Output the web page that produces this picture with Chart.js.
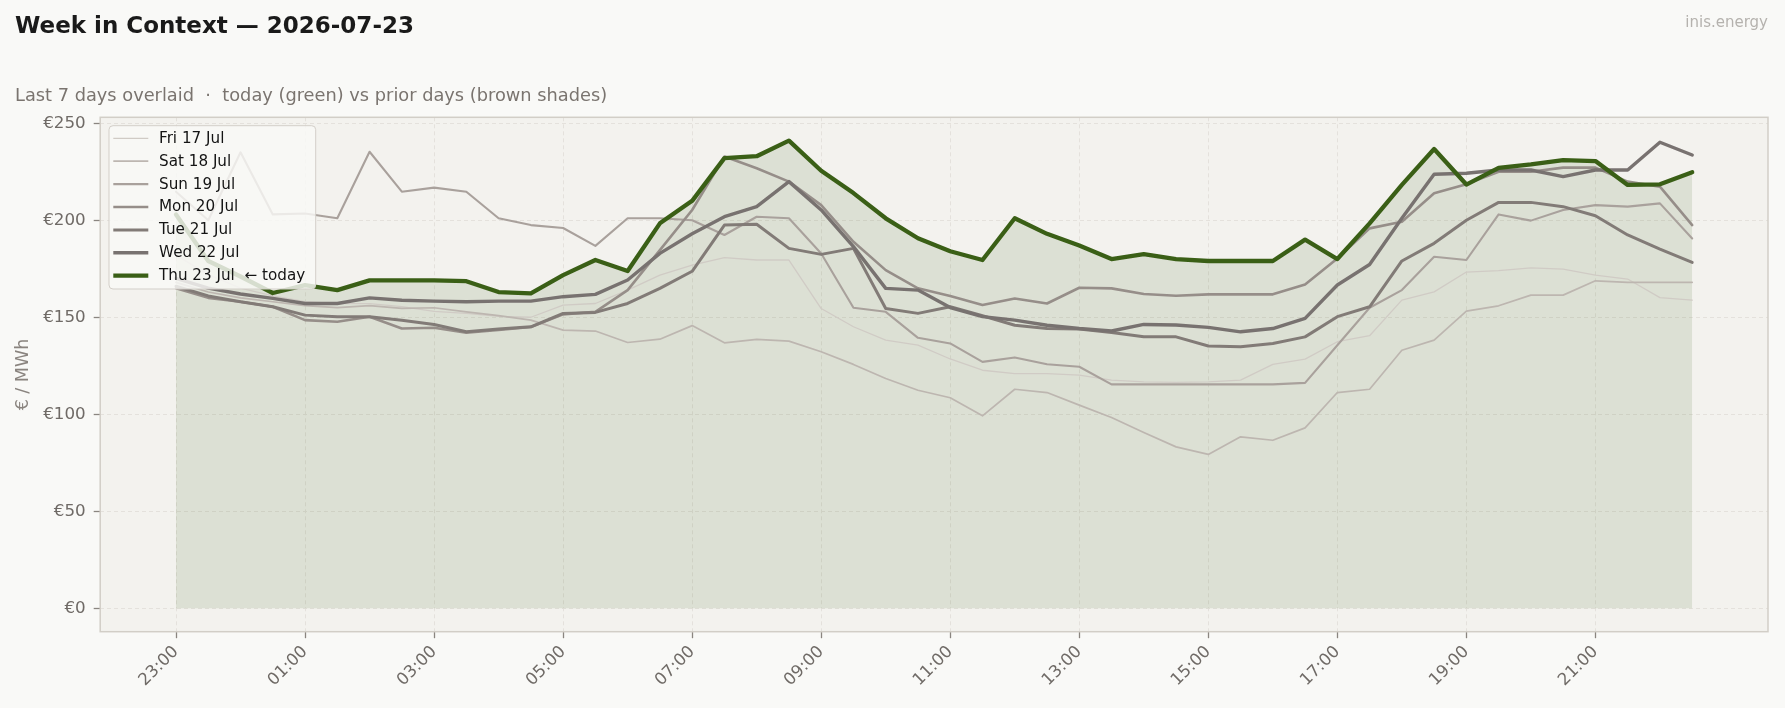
<!DOCTYPE html>
<html><head><meta charset="utf-8">
<script src="https://cdn.jsdelivr.net/npm/chart.js@4.4.1/dist/chart.umd.min.js"></script>
<style>
html,body{margin:0;padding:0;background:#f9f9f7;}
#wrap{position:relative;width:1785px;height:708px;overflow:hidden;font-family:"DejaVu Sans",sans-serif;}
canvas{position:absolute;left:0;top:0;}
.t{position:absolute;white-space:pre;line-height:1;}
</style></head><body>
<div id="wrap">
<canvas id="c" width="1785" height="708"></canvas>
<div class="t" style="left:15px;top:14px;font-size:23px;font-weight:bold;color:#1a1a1a">Week in Context — 2026-07-23</div>
<div class="t" style="left:15px;top:86px;font-size:17.8px;color:#7a746f">Last 7 days overlaid  ·  today (green) vs prior days (brown shades)</div>
<div class="t" style="right:17px;top:15px;font-size:15px;color:#b5b2ae">inis.energy</div>
</div>
<script>
const timeLabels = ['23:00','23:30','00:00','00:30','01:00','01:30','02:00','02:30','03:00','03:30','04:00','04:30',
  '05:00','05:30','06:00','06:30','07:00','07:30','08:00','08:30','09:00','09:30','10:00','10:30',
  '11:00','11:30','12:00','12:30','13:00','13:30','14:00','14:30','15:00','15:30','16:00','16:30',
  '17:00','17:30','18:00','18:30','19:00','19:30','20:00','20:30','21:00','21:30','22:00','22:30'];
const xTickPositions = [0,4,8,12,16,20,24,28,32,36,40,44];
const yTicks = [0,50,100,150,200,250];
const dayLabels = ['Fri 17 Jul','Sat 18 Jul','Sun 19 Jul','Mon 20 Jul','Tue 21 Jul','Wed 22 Jul','Thu 23 Jul  \u2190 today'];

const fri = [182,172,165,161,158,157,157,155.5,153,152,150.5,150,156.3,157.1,164,171.7,176.9,180.7,179.5,179.5,154.5,145.1,138.2,135.6,
  128.5,122.7,121,121,120.2,117.6,116.7,116.4,116.7,117.6,125.7,128.4,137.4,140.5,158.8,163.1,173.3,174,175.5,174.8,171.7,169.7,160.1,158.8];
const sat = [168,163,160,158,156,155,156,154.6,154.9,152.8,150.8,148.5,143.4,142.9,137,138.7,145.7,136.8,138.6,137.7,132.2,125.7,118.4,112.4,
  108.5,99.2,112.9,111.2,104.7,98.3,90.6,83.2,79.3,88.4,86.6,93,111.2,112.9,133,138.2,153.2,155.9,161.4,161.4,168.8,168,168,168];
const sun = [214.7,200,235,203,203.5,201,235.3,214.7,216.8,214.7,201,197.5,196,186.8,201,201,200,192.4,201.8,201,182.9,154.9,152.8,139.4,
  136.5,127,129.3,125.8,124.5,115.4,115.4,115.4,115.4,115.4,115.4,116.2,135.6,154.9,164,181.2,179.5,203,199.8,205.3,207.8,207,208.7,190.6];
const mon = [165,160,158,155.4,148.5,147.7,150.3,144.2,144.6,142,143.5,145,151.5,152.8,164,184.6,205.3,232.8,226.8,219.9,207.8,188.9,174.3,164.9,
  161,156.3,159.7,157.1,165.2,164.9,162,161.1,161.8,161.8,161.8,166.9,180.3,195.8,199.2,213.9,218.6,225,225,227.1,227.1,219.9,217.3,197.5];
const tue = [166,161,158,155.4,151.1,150.3,150.3,148.5,146.3,142.5,143.9,145.1,152,152.5,157.1,164.9,173.7,197.5,197.9,185.5,182.4,185.5,154.5,152,
  155.4,150.8,145.9,144.2,143.9,142.2,139.9,139.9,135.2,134.8,136.5,139.9,150.3,155.4,179,188.1,200,209.2,209.2,207,202.3,192.4,185.1,178.3];
const wed = [170,165,162,159.7,157.1,157.1,160,158.8,158.3,158,158.3,158.3,160.6,161.8,169.2,182.9,193,201.8,207,219.9,205.3,186.4,164.9,164,
  155,150.3,148.5,145.9,144.2,142.9,146.3,146,144.8,142.5,144.2,149.4,166.6,177.2,201,223.7,224.2,225.9,225.9,222.5,225.9,225.9,240.2,233.6];
const thu = [203,179,171,162.5,166.6,164,169,169,169,168.6,163,162.3,171.7,179.5,173.8,198.4,210,232,233,241,225.5,214,201,190.7,
  184,179.5,201,193,187,180,182.5,180,179,179,179,190,180,198.4,218.2,236.7,218.4,227,228.8,231,230.5,218.2,218.5,224.7];

const seriesValues = [fri, sat, sun, mon, tue, wed, thu];
const lineColors = ['#d0cbc5','#bdb6b0','#a9a19c','#968e89','#827b77','#787270','#3a5f16'];
const lineWidths = [1.3,1.7,2.1,2.6,3.0,3.4,4.3];

const datasets = seriesValues.map((vals, k) => ({
  label: dayLabels[k],
  data: vals.map((v, i) => ({x: i, y: v})),
  borderColor: lineColors[k],
  borderWidth: lineWidths[k],
  order: seriesValues.length - 1 - k,
  fill: k === seriesValues.length - 1 ? 'origin' : false,
  backgroundColor: k === seriesValues.length - 1 ? 'rgba(58,96,22,0.12)' : 'transparent'
}));

const FONT = '"DejaVu Sans", sans-serif';

const framePlugin = {
  id: 'frame',
  beforeDraw(chart) {
    const {ctx, chartArea: a} = chart;
    ctx.save();
    ctx.fillStyle = '#f3f2ee';
    ctx.fillRect(a.left, a.top, a.right - a.left, a.bottom - a.top);
    ctx.restore();
  },
  afterDatasetsDraw(chart) {
    const {ctx, chartArea: a} = chart;
    ctx.save();
    ctx.strokeStyle = '#d2cec7';
    ctx.lineWidth = 1.5;
    ctx.strokeRect(a.left, a.top, a.right - a.left, a.bottom - a.top);
    const bx = 109, by = 125.7, bw = 206.7, bh = 163.3, r = 4;
    ctx.beginPath();
    ctx.moveTo(bx + r, by);
    ctx.lineTo(bx + bw - r, by); ctx.arcTo(bx + bw, by, bx + bw, by + r, r);
    ctx.lineTo(bx + bw, by + bh - r); ctx.arcTo(bx + bw, by + bh, bx + bw - r, by + bh, r);
    ctx.lineTo(bx + r, by + bh); ctx.arcTo(bx, by + bh, bx, by + bh - r, r);
    ctx.lineTo(bx, by + r); ctx.arcTo(bx, by, bx + r, by, r);
    ctx.closePath();
    ctx.fillStyle = 'rgba(249,249,247,0.82)';
    ctx.fill();
    ctx.strokeStyle = '#d3cfc9';
    ctx.lineWidth = 1;
    ctx.stroke();
    ctx.font = '15.2px ' + FONT;
    ctx.textBaseline = 'middle';
    ctx.textAlign = 'left';
    chart.data.datasets.forEach((ds, k) => {
      const yy = 138.3 + k * 22.9;
      ctx.beginPath();
      ctx.strokeStyle = ds.borderColor;
      ctx.lineWidth = ds.borderWidth;
      ctx.moveTo(113.3, yy); ctx.lineTo(148.3, yy);
      ctx.stroke();
      ctx.fillStyle = '#141414';
      ctx.fillText(ds.label, 159, yy + 0.5);
    });
    ctx.restore();
  }
};

const gridOpts = {color: '#e4e1dc', lineWidth: 1, tickLength: 6.5, tickColor: '#8a8580', tickWidth: 1.3, tickBorderDash: []};

new Chart(document.getElementById('c'), {
  type: 'line',
  data: {datasets},
  options: {
    responsive: false,
    animation: false,
    devicePixelRatio: 1,
    layout: {padding: {top: 117.3, right: 17, bottom: 0, left: 0}},
    plugins: {
      legend: {display: false},
      title: {display: false},
      tooltip: {enabled: false},
      filler: {drawTime: 'beforeDatasetsDraw'}
    },
    elements: {point: {radius: 0}, line: {tension: 0, borderJoinStyle: 'round', borderCapStyle: 'round'}},
    scales: {
      x: {
        type: 'linear', min: -2.35, max: 49.35,
        afterFit(s) { s.height = 76.3; },
        afterBuildTicks(s) { s.ticks = xTickPositions.map(v => ({value: v})); },
        ticks: {autoSkip: false, maxRotation: 45, minRotation: 45, padding: 4, color: '#6f6a66',
          font: {family: FONT, size: 16.7}, callback: (v) => timeLabels[v]},
        grid: gridOpts,
        border: {display: false, dash: [4, 3]}
      },
      y: {
        type: 'linear', min: -12.05, max: 253.05,
        afterFit(s) { s.width = 100.2; },
        afterBuildTicks(s) { s.ticks = yTicks.map(v => ({value: v})); },
        ticks: {padding: 8, color: '#6f6a66', font: {family: FONT, size: 16.7}, callback: (v) => '\u20ac' + v},
        grid: gridOpts,
        border: {display: false, dash: [4, 3]},
        title: {display: true, text: '\u20ac / MWh', color: '#8a847f', font: {family: FONT, size: 17.5}, padding: {top: 13, bottom: 0}}
      }
    }
  },
  plugins: [framePlugin]
});
</script>
</body></html>
